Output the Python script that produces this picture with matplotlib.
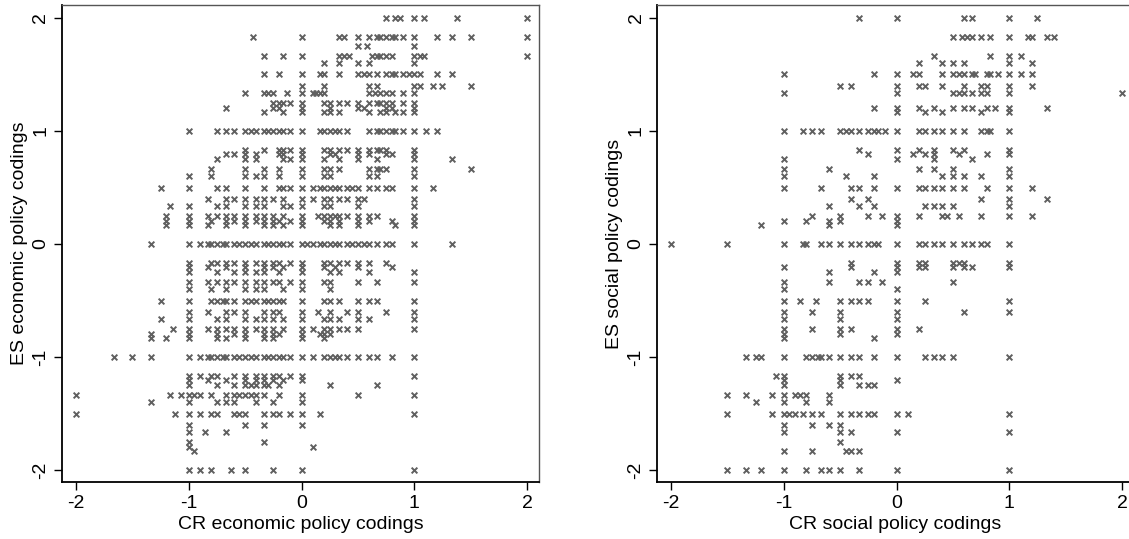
import matplotlib
matplotlib.use("Agg")
import matplotlib.pyplot as plt

plt.rcParams['font.family'] = ['Liberation Sans', 'DejaVu Sans']

# Economic policy: ES coding levels and the CR codings observed at each level
econ_es_levels = [
    2.0, 1.833, 1.75, 1.667, 1.6, 1.5, 1.4, 1.333, 1.25, 1.2, 1.167, 1.0,
    0.833, 0.8, 0.75, 0.667, 0.6, 0.5, 0.4, 0.333, 0.25, 0.2, 0.167, 0.0,
    -0.167, -0.2, -0.25, -0.333, -0.4, -0.5, -0.6, -0.667, -0.75, -0.8, -0.833,
    -1.0, -1.167, -1.2, -1.25, -1.333, -1.4, -1.5, -1.6, -1.667, -1.75, -1.8,
    -1.833, -2.0,
]
econ_cr_at_level = [
    [0.75, 0.833, 0.875, 1.0, 1.083, 1.375, 2.0],
    [-0.43, 0.0, 0.333, 0.375, 0.5, 0.6, 0.667, 0.7, 0.75, 0.8, 0.833, 0.9, 1.0, 1.2, 1.333, 1.5, 2.0],
    [0.5, 0.583, 1.0],
    [-0.333, -0.167, 0.0, 0.333, 0.375, 0.417, 0.625, 0.667, 0.7, 0.75, 0.8, 1.0, 1.05, 1.083, 2.0],
    [0.2, 0.333, 0.5, 0.6, 1.0],
    [-0.333, -0.2, 0.0, 0.167, 0.2, 0.333, 0.5, 0.55, 0.6, 0.667, 0.75, 0.8, 0.833, 0.9, 0.95, 1.0, 1.05, 1.2, 1.333],
    [0.0, 0.2, 0.6, 0.667, 1.0, 1.05, 1.167, 1.25, 1.5],
    [-0.5, -0.333, -0.3, -0.25, -0.125, 0.0, 0.1, 0.125, 0.167, 0.2, 0.6, 0.65, 0.7, 0.75, 0.8, 0.9, 1.0],
    [-0.25, -0.2, -0.167, -0.1, 0.0, 0.2, 0.25, 0.333, 0.4, 0.5, 0.6, 0.667, 0.7, 0.75, 0.8, 0.9, 1.0],
    [-0.667, -0.25, -0.2, 0.0, 0.25, 0.5, 0.55, 0.75, 0.8, 1.0],
    [-0.333, -0.167, 0.0, 0.2, 0.25, 0.333, 0.6, 0.7, 0.75, 0.833, 0.9, 1.0],
    [-1.0, -0.75, -0.667, -0.6, -0.5, -0.45, -0.4, -0.333, -0.3, -0.25, -0.2, -0.167, -0.1, 0.0, 0.167,
     0.2, 0.25, 0.3, 0.333, 0.4, 0.6, 0.667, 0.7, 0.75, 0.8, 0.833, 0.9, 1.0, 1.1, 1.2],
    [-0.5, -0.333, -0.2, -0.167, -0.1, 0.0, 0.2, 0.25, 0.333, 0.4, 0.5, 0.6, 0.667, 0.7, 0.75, 1.0],
    [-0.667, -0.6, -0.5, -0.4, -0.2, -0.167, 0.0, 0.25, 0.3, 0.5, 0.6, 0.75, 0.8, 1.0],
    [-0.75, -0.5, -0.4, -0.167, -0.1, 0.0, 0.2, 0.333, 0.5, 0.667, 1.0, 1.333],
    [-0.8, -0.5, -0.333, -0.2, 0.0, 0.2, 0.25, 0.333, 0.6, 0.667, 0.7, 0.75, 1.0, 1.5],
    [-1.0, -0.8, -0.5, -0.4, -0.333, -0.2, 0.0, 0.2, 0.25, 0.6, 0.667, 1.0],
    [-1.25, -1.0, -0.75, -0.667, -0.5, -0.333, -0.2, -0.167, -0.1, 0.0, 0.1, 0.167, 0.2, 0.25, 0.3,
     0.333, 0.4, 0.45, 0.5, 0.6, 0.667, 0.75, 0.8, 1.0, 1.167],
    [-0.833, -0.667, -0.6, -0.5, -0.4, -0.333, -0.25, -0.167, 0.0, 0.1, 0.2, 0.25, 0.333, 0.4, 0.5, 0.55, 1.0],
    [-1.167, -1.0, -0.75, -0.667, -0.5, -0.4, -0.333, -0.167, -0.1, 0.0, 0.2, 0.25, 0.5, 1.0],
    [-1.2, -1.0, -0.833, -0.75, -0.667, -0.6, -0.5, -0.4, -0.333, -0.25, -0.167, 0.0, 0.15, 0.2, 0.25,
     0.3, 0.333, 0.4, 0.5, 0.6, 0.667, 1.0],
    [-1.2, -1.0, -0.8, -0.667, -0.6, -0.5, -0.4, -0.333, -0.25, -0.2, -0.1, 0.0, 0.2, 0.25, 0.333, 0.5,
     0.6, 0.8, 1.0],
    [-1.2, -1.0, -0.833, -0.667, -0.5, -0.333, -0.25, -0.167, 0.0, 0.25, 0.333, 0.5, 0.833, 1.0],
    [-1.333, -1.0, -0.9, -0.833, -0.8, -0.75, -0.7, -0.667, -0.6, -0.55, -0.5, -0.45, -0.4, -0.333, -0.3,
     -0.25, -0.2, -0.167, -0.1, 0.0, 0.05, 0.1, 0.167, 0.2, 0.25, 0.3, 0.333, 0.4, 0.45, 0.5, 0.55, 0.6,
     0.667, 0.75, 0.8, 1.0, 1.333],
    [-1.0, -0.8, -0.75, -0.667, -0.6, -0.5, -0.4, -0.333, -0.25, -0.2, -0.1, 0.0, 0.2, 0.25, 0.333, 0.4,
     0.5, 0.6, 0.75],
    [-1.0, -0.833, -0.667, -0.5, -0.333, -0.25, -0.167, 0.0, 0.2, 0.3, 0.5, 0.8],
    [-1.0, -0.75, -0.6, -0.5, -0.4, -0.333, -0.2, 0.0, 0.25, 0.333, 0.6, 1.0],
    [-1.0, -0.833, -0.75, -0.667, -0.6, -0.5, -0.4, -0.333, -0.25, -0.2, -0.1, 0.0, 0.2, 0.25, 0.5, 0.667, 1.0],
    [-1.0, -0.8, -0.667, -0.5, -0.4, -0.333, -0.167, 0.0, 0.25],
    [-1.25, -1.0, -0.8, -0.75, -0.7, -0.667, -0.6, -0.5, -0.45, -0.4, -0.333, -0.3, -0.25, -0.2, -0.167,
     0.0, 0.2, 0.25, 0.333, 0.5, 0.6, 0.667, 1.0],
    [-1.0, -0.833, -0.667, -0.6, -0.5, -0.333, -0.25, -0.2, 0.0, 0.15, 0.25, 0.4, 0.5, 0.75, 1.0],
    [-1.25, -1.0, -0.75, -0.667, -0.5, -0.4, -0.333, -0.25, -0.167, 0.0, 0.2, 0.25, 0.333, 0.5, 0.6, 1.0],
    [-1.143, -1.0, -0.833, -0.75, -0.667, -0.6, -0.5, -0.4, -0.333, -0.25, -0.167, 0.0, 0.1, 0.2, 0.25,
     0.333, 0.4, 0.5, 1.0],
    [-1.333, -1.0, -0.75, -0.6, -0.5, -0.333, -0.25, -0.2, 0.0, 0.167, 0.2, 0.25],
    [-1.333, -1.2, -1.0, -0.75, -0.667, -0.5, -0.333, -0.25, 0.0, 0.2],
    [-1.667, -1.5, -1.333, -1.0, -0.9, -0.833, -0.8, -0.75, -0.7, -0.667, -0.6, -0.55, -0.5, -0.45, -0.4,
     -0.333, -0.3, -0.25, -0.2, -0.167, -0.1, 0.0, 0.1, 0.2, 0.25, 0.3, 0.333, 0.4, 0.5, 0.6, 0.667, 0.8, 1.0],
    [-1.0, -0.9, -0.8, -0.75, -0.6, -0.5, -0.4, -0.333, -0.25, -0.2, -0.1, 0.0, 1.0],
    [-1.0, -0.833, -0.667, -0.5, -0.4, -0.333, -0.25, -0.167, 0.0],
    [-1.0, -0.75, -0.6, -0.5, -0.45, -0.4, -0.333, -0.3, -0.2, 0.25, 0.667],
    [-2.0, -1.167, -1.067, -1.0, -0.95, -0.9, -0.8, -0.667, -0.6, -0.55, -0.5, -0.45, -0.4, -0.333, -0.2,
     0.0, 0.5, 1.0],
    [-1.333, -1.0, -0.75, -0.667, -0.6, -0.4, -0.25, 0.0],
    [-2.0, -1.125, -1.0, -0.9, -0.8, -0.75, -0.6, -0.55, -0.5, -0.333, -0.25, -0.2, -0.1, 0.0, 0.167, 1.0],
    [-1.0, -0.5, -0.333, 0.0],
    [-1.0, -0.857, -0.667],
    [-1.0, -0.333],
    [-1.0, 0.1],
    [-0.95],
    [-1.0, -0.9, -0.8, -0.625, -0.5, -0.25, 0.0, 1.0],
]

# Social policy: ES coding levels and the CR codings observed at each level
social_es_levels = [
    2.0, 1.833, 1.667, 1.6, 1.5, 1.4, 1.333, 1.2, 1.167, 1.0, 0.833, 0.8, 0.75,
    0.667, 0.6, 0.5, 0.4, 0.333, 0.25, 0.2, 0.167, 0.0, -0.167, -0.2, -0.25,
    -0.333, -0.4, -0.5, -0.6, -0.667, -0.75, -0.8, -0.833, -1.0, -1.167, -1.2,
    -1.25, -1.333, -1.4, -1.5, -1.6, -1.667, -1.75, -1.833, -2.0,
]
social_cr_at_level = [
    [-0.333, 0.0, 0.6, 0.667, 1.0, 1.25],
    [0.5, 0.583, 0.625, 0.667, 0.75, 0.833, 1.0, 1.167, 1.2, 1.333, 1.4],
    [0.333, 0.833, 1.0, 1.1],
    [0.2, 0.4, 0.5, 0.6, 1.0, 1.2],
    [-1.0, -0.2, 0.0, 0.143, 0.2, 0.4, 0.5, 0.55, 0.6, 0.667, 0.7, 0.8, 0.833, 0.9, 1.0, 1.1, 1.2],
    [-0.5, -0.4, 0.0, 0.2, 0.25, 0.4, 0.6, 0.75, 0.8, 1.0, 1.2],
    [-1.0, 0.0, 0.5, 0.55, 0.6, 0.667, 0.75, 0.8, 1.0, 2.0],
    [-0.2, 0.0, 0.2, 0.333, 0.5, 0.6, 0.667, 0.8, 0.875, 1.0, 1.333],
    [0.0, 0.25, 0.4, 0.75, 1.0],
    [-1.0, -0.833, -0.75, -0.667, -0.5, -0.45, -0.4, -0.333, -0.25, -0.2, -0.167, -0.1, 0.0, 0.2, 0.25,
     0.333, 0.4, 0.5, 0.6, 0.75, 0.8, 0.833, 1.0],
    [-0.333, 0.0, 0.2, 0.333, 0.5, 0.6, 1.0],
    [-0.25, 0.15, 0.25, 0.333, 0.55, 0.8, 1.0],
    [-1.0, 0.0, 0.333, 0.667],
    [-1.0, -0.6, 0.2, 0.333, 0.5, 1.0],
    [-1.0, -0.444, -0.2, 0.4, 0.5, 0.6, 0.75, 1.0],
    [-1.0, -0.667, -0.4, -0.333, -0.2, 0.0, 0.2, 0.25, 0.333, 0.4, 0.5, 0.6, 0.8, 1.0, 1.2],
    [-0.4, -0.25, 0.75, 1.0, 1.333],
    [-0.6, -0.333, -0.2, 0.25, 0.333, 0.4, 0.5, 1.0],
    [-0.75, -0.5, -0.25, -0.125, 0.0, 0.2, 0.4, 0.45, 0.55, 0.75, 1.0, 1.2],
    [-1.0, -0.8, -0.6, -0.5, 0.0],
    [-1.2, -0.6, 0.0],
    [-2.0, -1.5, -1.0, -0.833, -0.8, -0.667, -0.6, -0.5, -0.4, -0.333, -0.25, -0.2, -0.167, 0.0, 0.2,
     0.25, 0.333, 0.4, 0.5, 0.6, 0.667, 0.75, 0.8, 1.0],
    [-0.4, 0.0, 0.2, 0.25, 0.5, 0.55, 0.6, 1.0],
    [-1.0, -0.4, 0.0, 0.2, 0.25, 0.5, 0.6, 0.667, 1.0],
    [-0.6, -0.2, 0.0],
    [-1.0, -0.6, -0.333, -0.25, -0.125, 0.5],
    [-1.0, 0.0],
    [-1.0, -0.857, -0.714, -0.5, -0.4, -0.333, -0.25, 0.0, 0.25, 1.0],
    [-1.0, -0.75, -0.5, 0.0, 0.6, 1.0],
    [-1.0, -0.5, 0.0],
    [-1.0, -0.75, -0.5, -0.4, 0.0, 0.2],
    [-1.0, -0.5, 0.0],
    [-1.0, -0.2],
    [-1.333, -1.25, -1.2, -1.0, -0.8, -0.75, -0.7, -0.667, -0.6, -0.5, -0.4, -0.333, -0.2, 0.0, 0.25,
     0.333, 0.4, 0.5, 1.0],
    [-1.067, -1.0, -0.5, -0.4, -0.333],
    [-1.0, -0.5, 0.0],
    [-1.0, -0.5, -0.333, -0.25, -0.2],
    [-1.5, -1.333, -1.1, -1.0, -0.9, -0.857, -0.8, -0.6],
    [-1.25, -1.0, -0.8, -0.6],
    [-1.5, -1.1, -1.0, -0.95, -0.9, -0.833, -0.75, -0.667, -0.5, -0.4, -0.333, -0.25, -0.2, 0.0, 0.1, 1.0],
    [-1.0, -0.75, -0.6, -0.5],
    [-1.0, -0.5, -0.4, 0.0, 1.0],
    [-0.5],
    [-1.0, -0.75, -0.45, -0.4, -0.333],
    [-1.5, -1.333, -1.2, -1.0, -0.8, -0.667, -0.6, -0.5, -0.333, 0.0, 1.0],
]

tick_values = [-2, -1, 0, 1, 2]
tick_labels = ["-2", "-1", "0", "1", "2"]


def expand(levels, xs_by_level):
    cr, es = [], []
    for y, xs in zip(levels, xs_by_level):
        for x in xs:
            cr.append(x)
            es.append(y)
    return cr, es


econ_cr, econ_es = expand(econ_es_levels, econ_cr_at_level)
soc_cr, soc_es = expand(social_es_levels, social_cr_at_level)

W, H = 1129, 539
fig = plt.figure(figsize=(W / 100, H / 100), dpi=100)
fig.patch.set_facecolor("white")

panels = [
    (62, econ_cr, econ_es, "CR economic policy codings", "ES economic policy codings"),
    (657, soc_cr, soc_es, "CR social policy codings", "ES social policy codings"),
]

for left_px, xs, ys, xlabel, ylabel in panels:
    ax = fig.add_axes([left_px / W, 1 - 482 / H, 477 / W, 477 / H])
    ax.scatter(xs, ys, marker="x", s=17, c="#606060", linewidths=1.4, zorder=3)
    ax.set_xlim(-2.124, 2.106)
    ax.set_ylim(-2.106, 2.115)
    ax.set_xticks(tick_values)
    ax.set_xticklabels(tick_labels)
    ax.set_yticks(tick_values)
    ax.set_yticklabels(tick_labels, rotation=90, va="center")
    ax.tick_params(axis="both", length=6, width=1.0, labelsize=14, colors="black", pad=3)
    ax.set_xlabel(xlabel, fontsize=14, labelpad=3)
    ax.set_ylabel(ylabel, fontsize=14, labelpad=3)
    for side in ("left", "bottom"):
        ax.spines[side].set_color("black")
        ax.spines[side].set_linewidth(1.3)
    for side in ("top", "right"):
        ax.spines[side].set_color("#555555")
        ax.spines[side].set_linewidth(1.0)

fig.savefig("out.png", dpi=100)
